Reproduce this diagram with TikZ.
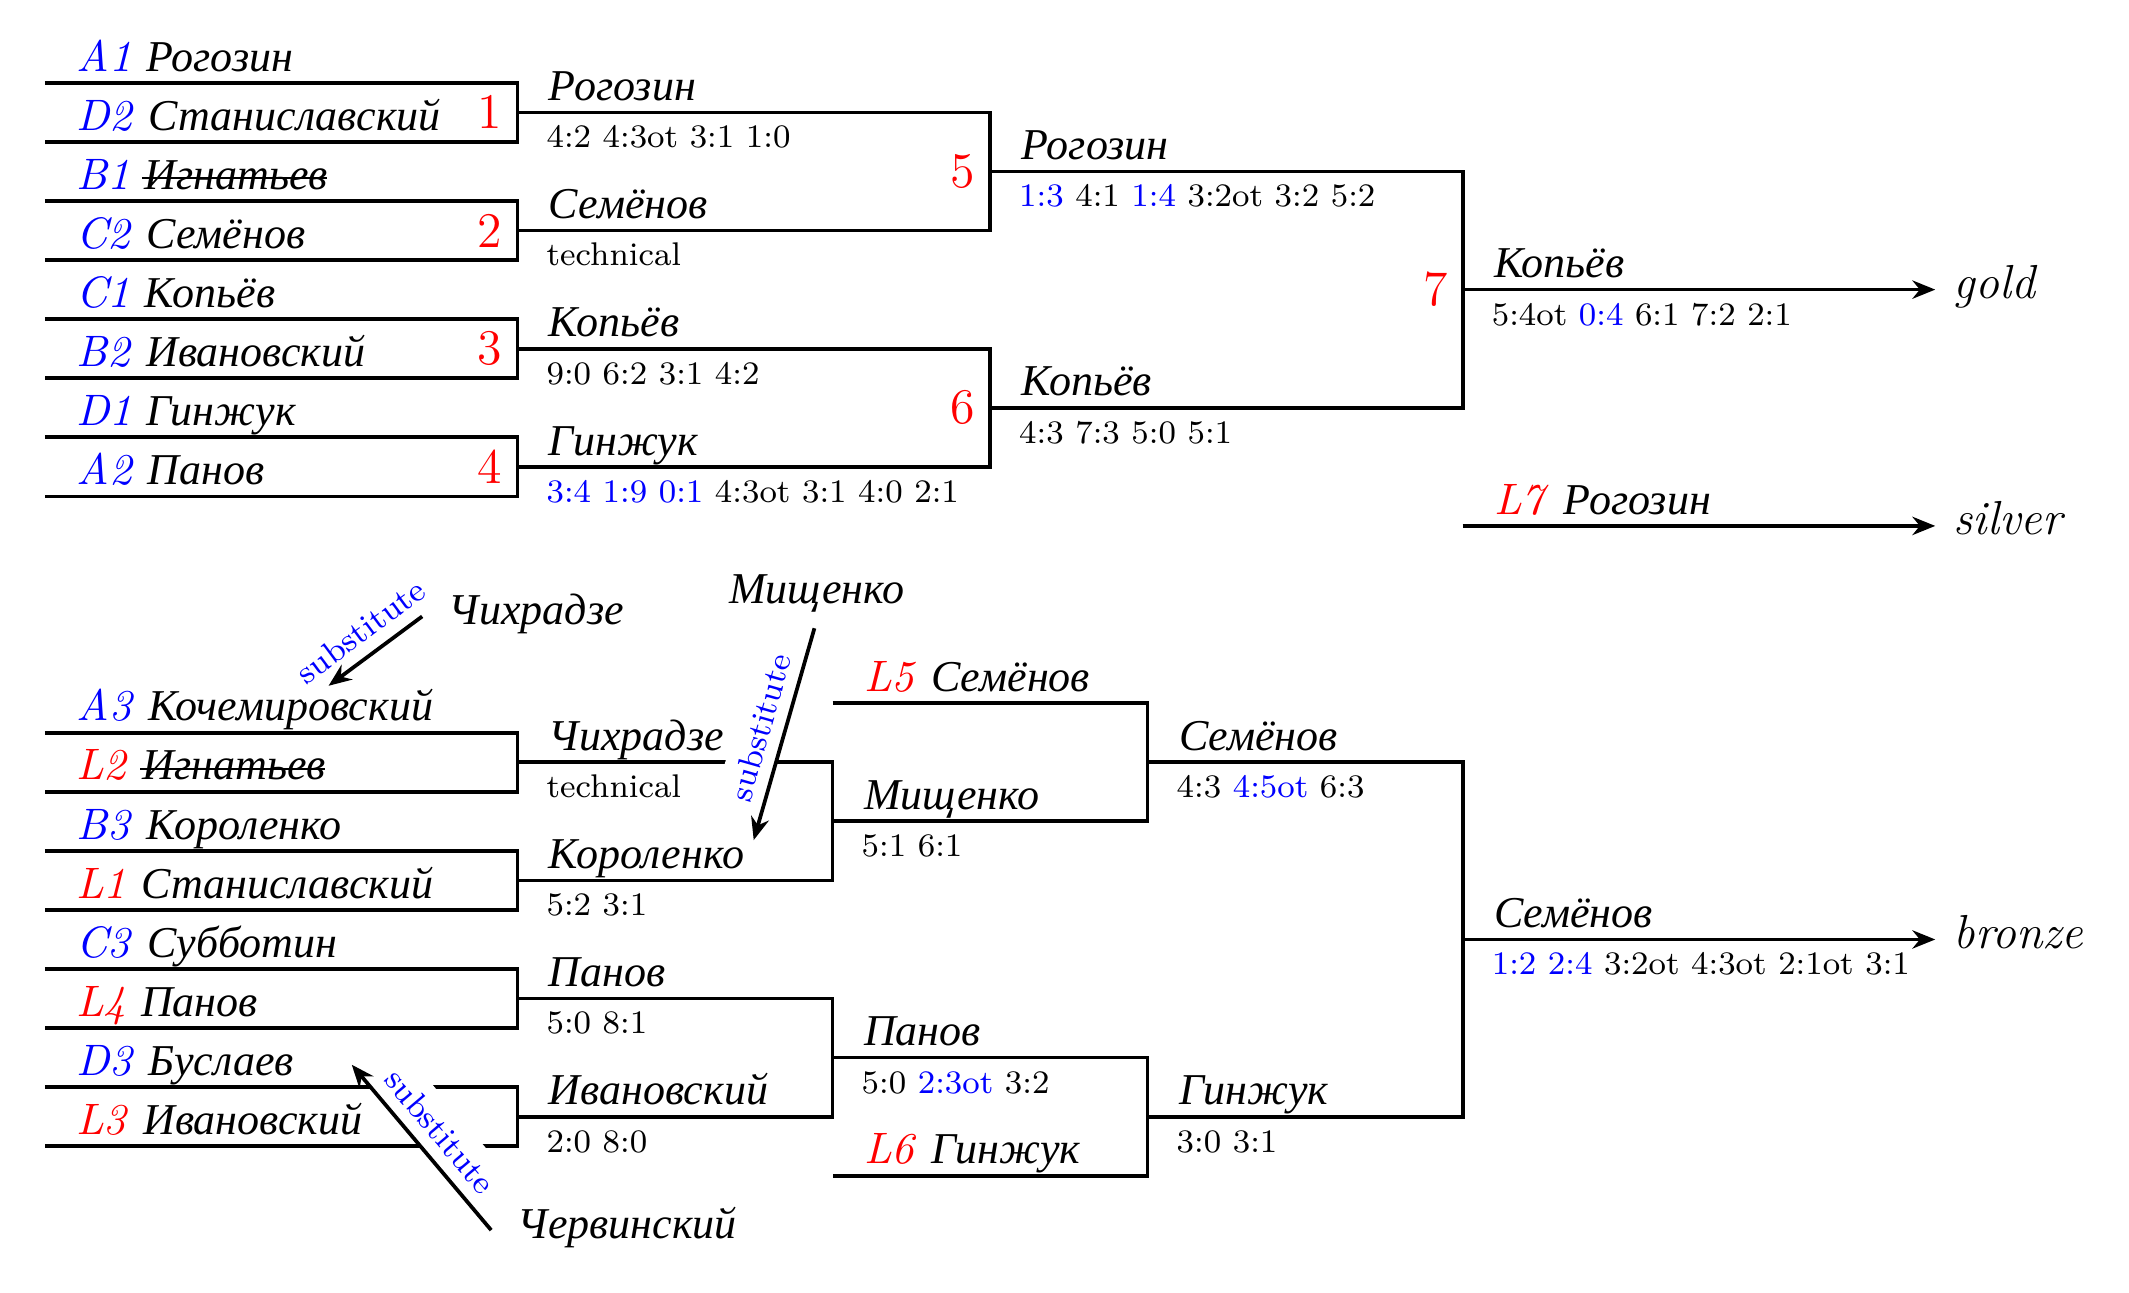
\documentclass[tikz,border=0pt]{standalone}
\usepackage{fontspec}
\usetikzlibrary{arrows.meta}
\newfontfamily\cyrfont{Liberation Serif}
\newcommand{\xnm}[1]{{\cyrfont\itshape #1}}
\newcommand{\xbl}[1]{\textcolor{blue}{\textit{#1}}}
\newcommand{\xrd}[1]{\textcolor{red}{\textit{#1}}}
\newcommand{\xsb}[1]{\textcolor{blue}{#1}}
\newsavebox{\xstbox}
\newcommand{\xst}[1]{\sbox\xstbox{#1}\makebox[0pt][l]{\hspace{-0.06em}\rule[0.5ex]{\dimexpr\wd\xstbox+0.04em\relax}{0.45pt}}\usebox\xstbox}
\begin{document}
\begin{tikzpicture}[
 br/.style={line width=0.9pt},
 nm/.style={anchor=base west, inner sep=0pt, font=\fontsize{10.6}{12.5}\selectfont},
 sc/.style={anchor=base west, inner sep=0pt, font=\fontsize{7.9}{9.5}\selectfont},
 num/.style={anchor=east, inner sep=0pt, text=red, font=\fontsize{12}{14}\selectfont},
 medal/.style={anchor=mid west, inner sep=0pt, font=\fontsize{11.5}{13}\selectfont\itshape},
 fin/.style={line width=0.9pt, -{Stealth[length=5.5pt,width=4.4pt]}},
 subl/.style={sloped, above, pos=0.5, fill=white, inner sep=3pt, text=blue, font=\fontsize{7.9}{9.5}\selectfont},
 suba/.style={line width=0.9pt, -{Stealth[length=5.5pt,width=4.4pt]}},
]
\path[use as bounding box, fill=white] (-0.379,0.701) rectangle (17.64,-10.241);

% ---------- top bracket coordinates ----------
\coordinate (p1) at (0,0);    \coordinate (p2) at (0,-0.5);
\coordinate (p3) at (0,-1);   \coordinate (p4) at (0,-1.5);
\coordinate (p5) at (0,-2);   \coordinate (p6) at (0,-2.5);
\coordinate (p7) at (0,-3);   \coordinate (p8) at (0,-3.5);
\coordinate (m1) at (4,-0.25); \coordinate (m2) at (4,-1.25);
\coordinate (m3) at (4,-2.25); \coordinate (m4) at (4,-3.25);
\coordinate (m5) at (8,-0.75); \coordinate (m6) at (8,-2.75);
\coordinate (m7) at (12,-1.75);
\coordinate (ge) at (16,-1.75);
\coordinate (s0) at (12,-3.75); \coordinate (se) at (16,-3.75);

% ---------- bottom bracket coordinates ----------
\coordinate (q1) at (0,-5.5);  \coordinate (q2) at (0,-6);
\coordinate (q3) at (0,-6.5);  \coordinate (q4) at (0,-7);
\coordinate (q5) at (0,-7.5);  \coordinate (q6) at (0,-8);
\coordinate (q7) at (0,-8.5);  \coordinate (q8) at (0,-9);
\coordinate (n1) at (4,-5.75); \coordinate (n2) at (4,-6.75);
\coordinate (n3) at (4,-7.75); \coordinate (n4) at (4,-8.75);
\coordinate (l5) at (6.667,-5.25);
\coordinate (n5) at (6.667,-6.25);
\coordinate (n6) at (6.667,-8.25);
\coordinate (l6) at (6.667,-9.25);
\coordinate (n7) at (9.333,-5.75);
\coordinate (n8) at (9.333,-8.75);
\coordinate (n9) at (12,-7.25);
\coordinate (be) at (16,-7.25);

% ---------- top brackets ----------
\draw[br] (p1) -- (p1 -| m1) -- (p2 -| m1) -- (p2);
\draw[br] (p3) -- (p3 -| m2) -- (p4 -| m2) -- (p4);
\draw[br] (p5) -- (p5 -| m3) -- (p6 -| m3) -- (p6);
\draw[br] (p7) -- (p7 -| m4) -- (p8 -| m4) -- (p8);
\draw[br] (m1) -- (m1 -| m5) -- (m2 -| m5) -- (m2);
\draw[br] (m3) -- (m3 -| m6) -- (m4 -| m6) -- (m4);
\draw[br] (m5) -- (m5 -| m7) -- (m6 -| m7) -- (m6);
\draw[fin] (m7) -- (ge);
\draw[fin] (s0) -- (se);

% ---------- bottom brackets ----------
\draw[br] (q1) -- (q1 -| n1) -- (q2 -| n1) -- (q2);
\draw[br] (q3) -- (q3 -| n2) -- (q4 -| n2) -- (q4);
\draw[br] (q5) -- (q5 -| n3) -- (q6 -| n3) -- (q6);
\draw[br] (q7) -- (q7 -| n4) -- (q8 -| n4) -- (q8);
\draw[br] (n1) -- (n1 -| n5) -- (n2 -| n5) -- (n2);
\draw[br] (n3) -- (n3 -| n6) -- (n4 -| n6) -- (n4);
\draw[br] (l5) -- (l5 -| n7) -- (n5 -| n7) -- (n5);
\draw[br] (n6) -- (n6 -| n8) -- (l6 -| n8) -- (l6);
\draw[br] (n7) -- (n7 -| n9) -- (n8 -| n9) -- (n8);
\draw[fin] (n9) -- (be);

% ---------- top texts ----------
\node[nm] (e1) at ([shift={(0.26,0.1)}]p1) {\xbl{A1} \xnm{Рогозин}};
\node[nm] (e2) at ([shift={(0.26,0.1)}]p2) {\xbl{D2} \xnm{Станиславский}};
\node[nm] (e3) at ([shift={(0.26,0.1)}]p3) {\xbl{B1} \xnm{\xst{Игнатьев}}};
\node[nm] (e4) at ([shift={(0.26,0.1)}]p4) {\xbl{C2} \xnm{Семёнов}};
\node[nm] (e5) at ([shift={(0.26,0.1)}]p5) {\xbl{C1} \xnm{Копьёв}};
\node[nm] (e6) at ([shift={(0.26,0.1)}]p6) {\xbl{B2} \xnm{Ивановский}};
\node[nm] (e7) at ([shift={(0.26,0.1)}]p7) {\xbl{D1} \xnm{Гинжук}};
\node[nm] (e8) at ([shift={(0.26,0.1)}]p8) {\xbl{A2} \xnm{Панов}};

\node[num] (k1) at ([xshift=-0.12cm]m1) {1};
\node[num] (k2) at ([xshift=-0.12cm]m2) {2};
\node[num] (k3) at ([xshift=-0.12cm]m3) {3};
\node[num] (k4) at ([xshift=-0.12cm]m4) {4};
\node[num] (k5) at ([xshift=-0.12cm]m5) {5};
\node[num] (k6) at ([xshift=-0.12cm]m6) {6};
\node[num] (k7) at ([xshift=-0.12cm]m7) {7};

\node[nm] (w1) at ([shift={(0.26,0.1)}]m1) {\xnm{Рогозин}};
\node[sc] (r1) at ([shift={(0.24,-0.3)}]m1) {4:2 4:3ot 3:1 1:0};
\node[nm] (w2) at ([shift={(0.26,0.1)}]m2) {\xnm{Семёнов}};
\node[sc] (r2) at ([shift={(0.24,-0.3)}]m2) {technical};
\node[nm] (w3) at ([shift={(0.26,0.1)}]m3) {\xnm{Копьёв}};
\node[sc] (r3) at ([shift={(0.24,-0.3)}]m3) {9:0 6:2 3:1 4:2};
\node[nm] (w4) at ([shift={(0.26,0.1)}]m4) {\xnm{Гинжук}};
\node[sc] (r4) at ([shift={(0.24,-0.3)}]m4) {\xsb{3:4 1:9 0:1} 4:3ot 3:1 4:0 2:1};
\node[nm] (w5) at ([shift={(0.26,0.1)}]m5) {\xnm{Рогозин}};
\node[sc] (r5) at ([shift={(0.24,-0.3)}]m5) {\xsb{1:3} 4:1 \xsb{1:4} 3:2ot 3:2 5:2};
\node[nm] (w6) at ([shift={(0.26,0.1)}]m6) {\xnm{Копьёв}};
\node[sc] (r6) at ([shift={(0.24,-0.3)}]m6) {4:3 7:3 5:0 5:1};
\node[nm] (w7) at ([shift={(0.26,0.1)}]m7) {\xnm{Копьёв}};
\node[sc] (r7) at ([shift={(0.24,-0.3)}]m7) {5:4ot \xsb{0:4} 6:1 7:2 2:1};
\node[medal] (gold) at ([xshift=0.15cm]ge) {gold};
\node[nm] (w8) at ([shift={(0.26,0.1)}]s0) {\xrd{L7} \xnm{Рогозин}};
\node[medal] (silver) at ([xshift=0.15cm]se) {silver};

% ---------- bottom texts ----------
\node[nm] (f1) at ([shift={(0.26,0.1)}]q1) {\xbl{A3} \xnm{Кочемировский}};
\node[nm] (f2) at ([shift={(0.26,0.1)}]q2) {\xrd{L2} \xnm{\xst{Игнатьев}}};
\node[nm] (f3) at ([shift={(0.26,0.1)}]q3) {\xbl{B3} \xnm{Короленко}};
\node[nm] (f4) at ([shift={(0.26,0.1)}]q4) {\xrd{L1} \xnm{Станиславский}};
\node[nm] (f5) at ([shift={(0.26,0.1)}]q5) {\xbl{C3} \xnm{Субботин}};
\node[nm] (f6) at ([shift={(0.26,0.1)}]q6) {\xrd{L4} \xnm{Панов}};
\node[nm] (f7) at ([shift={(0.26,0.1)}]q7) {\xbl{D3} \xnm{Буслаев}};
\node[nm] (f8) at ([shift={(0.26,0.1)}]q8) {\xrd{L3} \xnm{Ивановский}};

\node[nm] (v1) at ([shift={(0.26,0.1)}]n1) {\xnm{Чихрадзе}};
\node[sc] (u1) at ([shift={(0.24,-0.3)}]n1) {technical};
\node[nm] (v2) at ([shift={(0.26,0.1)}]n2) {\xnm{Короленко}};
\node[sc] (u2) at ([shift={(0.24,-0.3)}]n2) {5:2 3:1};
\node[nm] (v3) at ([shift={(0.26,0.1)}]n3) {\xnm{Панов}};
\node[sc] (u3) at ([shift={(0.24,-0.3)}]n3) {5:0 8:1};
\node[nm] (v4) at ([shift={(0.26,0.1)}]n4) {\xnm{Ивановский}};
\node[sc] (u4) at ([shift={(0.24,-0.3)}]n4) {2:0 8:0};
\node[nm] (v5l) at ([shift={(0.26,0.1)}]l5) {\xrd{L5} \xnm{Семёнов}};
\node[nm] (v5) at ([shift={(0.26,0.1)}]n5) {\xnm{Мищенко}};
\node[sc] (u5) at ([shift={(0.24,-0.3)}]n5) {5:1 6:1};
\node[nm] (v6) at ([shift={(0.26,0.1)}]n6) {\xnm{Панов}};
\node[sc] (u6) at ([shift={(0.24,-0.3)}]n6) {5:0 \xsb{2:3ot} 3:2};
\node[nm] (v6l) at ([shift={(0.26,0.1)}]l6) {\xrd{L6} \xnm{Гинжук}};
\node[nm] (v7) at ([shift={(0.26,0.1)}]n7) {\xnm{Семёнов}};
\node[sc] (u7) at ([shift={(0.24,-0.3)}]n7) {4:3 \xsb{4:5ot} 6:3};
\node[nm] (v8) at ([shift={(0.26,0.1)}]n8) {\xnm{Гинжук}};
\node[sc] (u8) at ([shift={(0.24,-0.3)}]n8) {3:0 3:1};
\node[nm] (v9) at ([shift={(0.26,0.1)}]n9) {\xnm{Семёнов}};
\node[sc] (u9) at ([shift={(0.24,-0.3)}]n9) {\xsb{1:2 2:4} 3:2ot 4:3ot 2:1ot 3:1};
\node[medal] (bronze) at ([xshift=0.15cm]be) {bronze};

% ---------- substitutes ----------
\node[nm] (chikh) at (3.414,-4.586) {\xnm{Чихрадзе}};
\node[nm] (mish) at (5.785,-4.406) {\xnm{Мищенко}};
\node[nm] (cherv) at (3.998,-9.780) {\xnm{Червинский}};
\coordinate (ta) at (2.402,-5.103);
\coordinate (tb) at (6.0,-6.409);
\coordinate (tc) at (2.598,-8.310);
\coordinate (sa) at ([shift={(-0.22,0.07)}]chikh.base west);
\coordinate (sb) at ([shift={(-0.02,-0.21)}]mish.base);
\coordinate (sc) at ([shift={(-0.22,0.07)}]cherv.base west);
\path (sa) -- node[subl] (la) {substitute} (ta);
\path (sb) -- node[subl] (lb) {substitute} (tb);
\path (sc) -- node[subl] (lc) {substitute} (tc);
\draw[suba] (sa) -- (ta);
\draw[suba] (sb) -- (tb);
\draw[suba] (sc) -- (tc);
\end{tikzpicture}
\end{document}
